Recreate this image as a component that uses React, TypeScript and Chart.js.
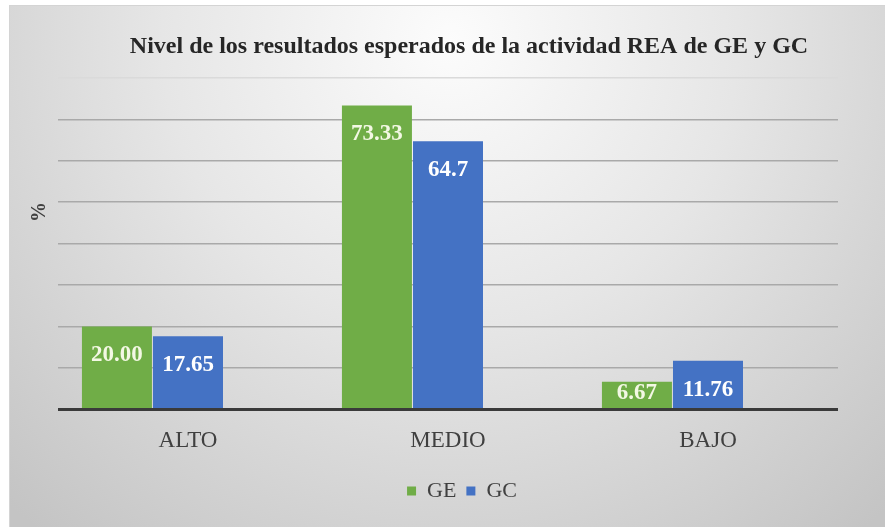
import React, { useEffect, useRef } from "react";
import { Chart, registerables } from "chart.js";

Chart.register(...registerables);

const categories = ["ALTO", "MEDIO", "BAJO"];
const geValues = [20.0, 73.33, 6.67];
const gcValues = [17.65, 64.7, 11.76];
const spacerValues: (number | null)[] = [null, null, null];
const geLabels = geValues.map((v) => v.toFixed(2));
const gcLabels = gcValues.map((v) => String(v));
const titleText = "Nivel de los resultados esperados de la actividad REA de GE y GC";
const yAxisLabel = "%";
const yMax = 80;
const yStep = 10;

const SERIF = "'Liberation Serif', 'Times New Roman', serif";

const backgroundPlugin = {
  id: "panelBackground",
  beforeDraw(chart: any) {
    const { ctx, width, height } = chart;
    ctx.save();
    ctx.fillStyle = "#ffffff";
    ctx.fillRect(0, 0, width, height);
    const g = ctx.createRadialGradient(450, 40, 0, 450, 40, 640);
    g.addColorStop(0, "#fcfcfc");
    g.addColorStop(0.45, "#e6e6e6");
    g.addColorStop(1, "#c4c4c4");
    ctx.fillStyle = g;
    ctx.fillRect(9, 5, width - 9, height - 5);
    ctx.strokeStyle = "#d4d4d4";
    ctx.lineWidth = 1;
    ctx.strokeRect(9.5, 5.5, width - 9, height - 5);
    ctx.restore();
  },
};

const shiftPlugin = {
  id: "shiftBoxes",
  afterLayout(chart: any) {
    const lg = chart.legend;
    if (lg) {
      lg.left += 14;
      lg.right += 14;
      lg.top += 5;
      lg.bottom += 5;
      if (lg.adjustHitBoxes) lg.adjustHitBoxes();
    }
    const tb = chart.titleBlock;
    if (tb) {
      tb.left += 21;
      tb.right += 21;
    }
  },
};

const labelsPlugin = {
  id: "barValueLabels",
  afterDatasetsDraw(chart: any) {
    const { ctx } = chart;
    const texts = [geLabels, gcLabels];
    const colors = ["#f3f8e4", "#ffffff"];
    ctx.save();
    ctx.font = `bold 23px ${SERIF}`;
    ctx.textAlign = "center";
    ctx.textBaseline = "middle";
    [0, 1].forEach((di) => {
      const meta = chart.getDatasetMeta(di);
      meta.data.forEach((bar: any, i: number) => {
        const y = Math.min(bar.y + 29, bar.base - 15);
        ctx.fillStyle = colors[di];
        ctx.fillText(texts[di][i], bar.x, y);
      });
    });
    // y axis title
    ctx.translate(40, 212);
    ctx.rotate(-Math.PI / 2);
    ctx.font = `bold 20px ${SERIF}`;
    ctx.fillStyle = "#404040";
    ctx.fillText(yAxisLabel, 0, 0);
    ctx.restore();
  },
};

export default function App() {
  const ref = useRef<HTMLCanvasElement>(null);
  useEffect(() => {
    if (!ref.current) return;
    const chart = new Chart(ref.current, {
      type: "bar",
      data: {
        labels: categories,
        datasets: [
          {
            label: "GE",
            data: geValues,
            backgroundColor: "#70ad47",
            borderWidth: 0,
            categoryPercentage: 0.82,
            barPercentage: 0.985,
          },
          {
            label: "GC",
            data: gcValues,
            backgroundColor: "#4472c4",
            borderWidth: 0,
            categoryPercentage: 0.82,
            barPercentage: 0.985,
          },
          {
            label: "",
            data: spacerValues,
            backgroundColor: "rgba(0,0,0,0)",
            categoryPercentage: 0.82,
            barPercentage: 0.985,
          },
        ],
      },
      options: {
        responsive: false,
        animation: false,
        layout: { padding: { left: 58, right: 47, top: 5, bottom: 20 } },
        scales: {
          x: {
            grid: { display: false },
            border: { display: false },
            ticks: {
              padding: 10,
              color: "#404040",
              font: { family: SERIF, size: 23 },
            },
          },
          y: {
            min: 0,
            max: yMax,
            border: { display: false },
            ticks: { display: false, stepSize: yStep },
            grid: {
              drawTicks: false,
              color: (c: any) =>
                c.tick && c.tick.value === 0
                  ? "#3a3a3a"
                  : c.tick && c.tick.value === yMax
                  ? "#dadada"
                  : "#a9a9a9",
              lineWidth: (c: any) => (c.tick && c.tick.value === 0 ? 3 : 1.5),
            },
          },
        },
        plugins: {
          title: {
            display: true,
            text: titleText,
            color: "#262626",
            font: { family: SERIF, size: 24, weight: "bold" },
            padding: { top: 27, bottom: 17 },
          },
          legend: {
            position: "bottom",
            labels: {
              filter: (item: any) => item.text !== "",
              boxWidth: 9,
              boxHeight: 9,
              padding: 10,
              color: "#404040",
              font: { family: SERIF, size: 22 },
            },
          },
          tooltip: { enabled: false },
        },
      },
      plugins: [backgroundPlugin, shiftPlugin, labelsPlugin],
    });
    return () => chart.destroy();
  }, []);
  return (
    <div style={{ position: "fixed", left: 0, top: 0, width: 885, height: 527 }}>
      <canvas ref={ref} width={885} height={527} style={{ display: "block" }} />
    </div>
  );
}
